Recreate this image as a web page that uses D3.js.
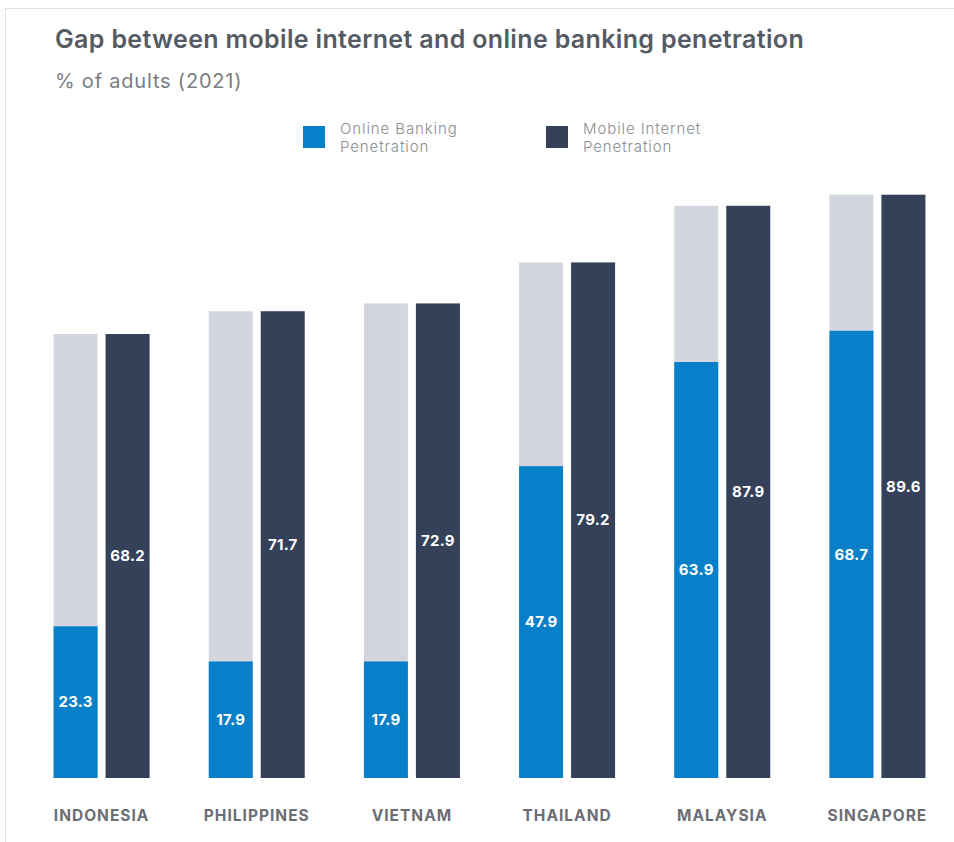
<!DOCTYPE html>
<html>
<head>
<meta charset="utf-8">
<script src="https://cdn.jsdelivr.net/npm/d3@7"></script>
<style>
    body { margin: 0; background: #fff; }
    svg { display: block; font-family: Inter, "Noto Sans", sans-serif; }
</style>
</head>
<body>
<svg id="chart" width="954" height="842"></svg>
<script>
// chart data
const countries = ['INDONESIA', 'PHILIPPINES', 'VIETNAM', 'THAILAND', 'MALAYSIA', 'SINGAPORE'];
const banking = [23.3, 17.9, 17.9, 47.9, 63.9, 68.7];
const mobile = [68.2, 71.7, 72.9, 79.2, 87.9, 89.6];
const legendLabels = [['Online Banking', 'Penetration'], ['Mobile Internet', 'Penetration']];

const colors = { blue: '#0880c9', dark: '#344159', gap: '#d3d6de' };

let svg = d3.select('#chart');

// card outline (only top + left edges are visible in the frame)
svg.append('rect')
    .attr('x', 5.5).attr('y', 8.5)
    .attr('width', 1000).attr('height', 1000)
    .attr('fill', 'none')
    .attr('stroke', '#e3e3e3');

svg.append('text')
    .attr('x', 55).attr('y', 48)
    .attr('font-size', 25)
    .attr('font-weight', 600)
    .attr('letter-spacing', 0.35)
    .attr('fill', '#555a63')
    .text('Gap between mobile internet and online banking penetration');

svg.append('text')
    .attr('x', 55).attr('y', 88)
    .attr('font-size', 20)
    .attr('letter-spacing', 0.8)
    .attr('fill', '#7a7d83')
    .text('% of adults (2021)');

// legend
let legend = svg.append('g');
[colors.blue, colors.dark].forEach(function(c, i) {
    let g = legend.append('g').attr('transform', `translate(${303 + i * 243}, 126)`);
    g.append('rect').attr('width', 22).attr('height', 22).attr('fill', c);
    legendLabels[i].forEach(function(line, j) {
        g.append('text')
            .attr('x', 37).attr('y', 8 + j * 18)
            .attr('font-size', 15)
            .attr('font-weight', 300)
            .attr('letter-spacing', 0.9)
            .attr('fill', '#8a8d93')
            .text(line);
    });
});

// scales
let x = d3.scaleBand()
    .domain(countries)
    .range([24, 955])
    .paddingInner(0)
    .paddingOuter(0);

let y = d3.scaleLinear()
    .domain([0, 100])
    .range([778, 127]);

const barW = 44, gap = 8;

let groups = svg.selectAll('.grp')
    .data(countries)
    .join('g')
    .attr('class', 'grp')
    .attr('transform', d => `translate(${x(d) + x.bandwidth() / 2}, 0)`);

// grey "gap" bar behind the banking bar reaches the mobile value
groups.append('rect')
    .attr('x', -barW - gap / 2)
    .attr('width', barW)
    .attr('y', (d, i) => y(mobile[i]))
    .attr('height', (d, i) => y(0) - y(mobile[i]))
    .attr('fill', colors.gap);

groups.append('rect')
    .attr('x', -barW - gap / 2)
    .attr('width', barW)
    .attr('y', (d, i) => y(banking[i]))
    .attr('height', (d, i) => y(0) - y(banking[i]))
    .attr('fill', colors.blue);

groups.append('rect')
    .attr('x', gap / 2)
    .attr('width', barW)
    .attr('y', (d, i) => y(mobile[i]))
    .attr('height', (d, i) => y(0) - y(mobile[i]))
    .attr('fill', colors.dark);

// value labels, centred in each bar
groups.append('text')
    .attr('x', -barW / 2 - gap / 2)
    .attr('y', (d, i) => (y(banking[i]) + y(0)) / 2)
    .attr('dy', '0.35em')
    .attr('text-anchor', 'middle')
    .attr('font-size', 15)
    .attr('font-weight', 700)
    .attr('letter-spacing', 0.3)
    .attr('fill', '#fff')
    .text((d, i) => banking[i].toFixed(1));

groups.append('text')
    .attr('x', barW / 2 + gap / 2)
    .attr('y', (d, i) => (y(mobile[i]) + y(0)) / 2)
    .attr('dy', '0.35em')
    .attr('text-anchor', 'middle')
    .attr('font-size', 15)
    .attr('font-weight', 700)
    .attr('letter-spacing', 0.3)
    .attr('fill', '#fff')
    .text((d, i) => mobile[i].toFixed(1));

// country names
groups.append('text')
    .attr('y', 821)
    .attr('text-anchor', 'middle')
    .attr('font-size', 15.5)
    .attr('font-weight', 700)
    .attr('letter-spacing', 1)
    .attr('fill', '#6b6e75')
    .text(d => d);
</script>
</body>
</html>
